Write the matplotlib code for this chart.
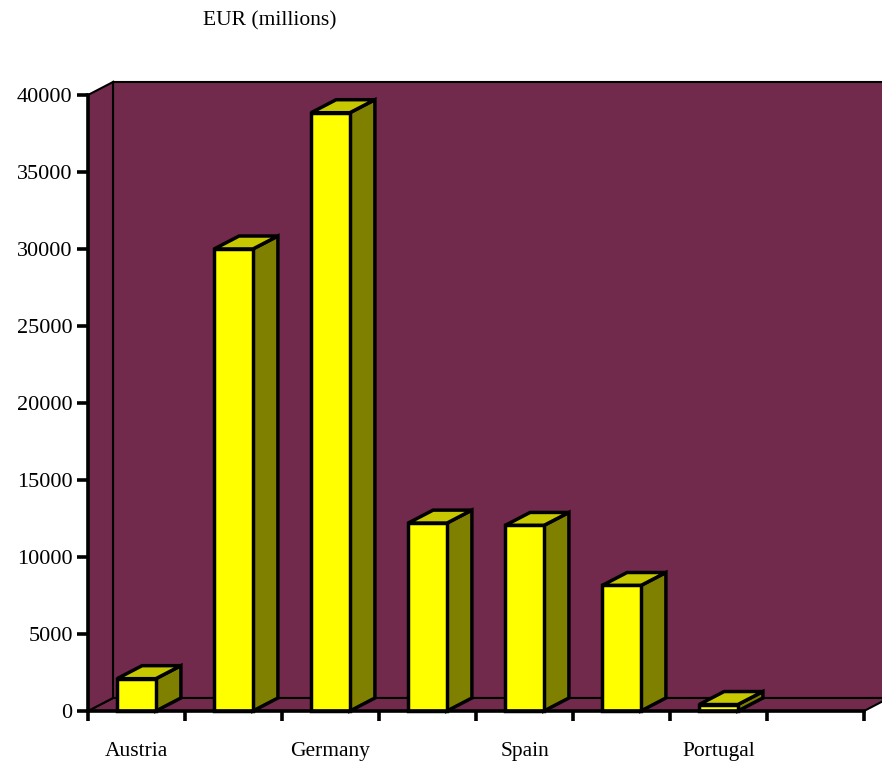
import matplotlib.pyplot as plt
from matplotlib.patches import Polygon

# data
countries = ["Austria", "", "Germany", "", "Spain", "", "Portugal", ""]
values = [2100, 30000, 38850, 12200, 12050, 8150, 420]

wall = "#722a4c"
front = "#ffff00"
side = "#808000"
top = "#c8c800"

plt.rcParams['font.family'] = ['Liberation Serif', 'DejaVu Serif']

fig = plt.figure(figsize=(8.82, 7.65), dpi=100)
ax = fig.add_axes([88/882, 54/765, 776/882, 616/765])
ax.set_xlim(0, len(countries))
ax.set_ylim(0, 40000)
ax.patch.set_visible(False)

# depth of the 3d box in pixels -> data units
px_x = 776 / len(countries)
px_y = 616 / 40000
dx = 25 / px_x
dy = 13 / px_y
n = len(countries)

def poly(pts, fc, lw=2.2, z=1):
    p = Polygon(pts, closed=True, facecolor=fc, edgecolor="black",
                linewidth=lw, clip_on=False, zorder=z, joinstyle="miter")
    ax.add_patch(p)

# back wall, floor, left wall
poly([(dx, dy), (n + dx, dy), (n + dx, 40000 + dy), (dx, 40000 + dy)], wall, 1.5, 0)
poly([(0, 0), (n, 0), (n + dx, dy), (dx, dy)], wall, 1.5, 0)
poly([(0, 0), (dx, dy), (dx, 40000 + dy), (0, 40000)], wall, 1.5, 0)

w = 0.4
for i, v in enumerate(values):
    x0 = i + 0.5 - w / 2
    x1 = x0 + w
    poly([(x1, 0), (x1 + dx, dy), (x1 + dx, v + dy), (x1, v)], side, 2.5, 2)
    poly([(x0, v), (x1, v), (x1 + dx, v + dy), (x0 + dx, v + dy)], top, 2.5, 2)

ax.bar([i + 0.5 for i in range(len(values))], values, width=w, color=front,
       edgecolor="black", linewidth=2.5, zorder=3, clip_on=False)

for s in ["top", "right"]:
    ax.spines[s].set_visible(False)
for s in ["left", "bottom"]:
    ax.spines[s].set_linewidth(2.6)
    ax.spines[s].set_zorder(4)

ax.set_yticks(range(0, 40001, 5000))
ax.tick_params(axis="y", direction="out", length=8, width=2.6, pad=3, labelsize=16)
ax.set_xticks(range(n + 1))
ax.set_xticklabels([])
ax.tick_params(axis="x", which="major", direction="out", length=7, width=2.6)
ax.set_xticks([i + 0.5 for i in range(n)], minor=True)
ax.set_xticklabels(countries, minor=True)
ax.tick_params(axis="x", which="minor", length=0, pad=22, labelsize=15.5)

fig.text(203/882, 1 - 21/765, "EUR (millions)", fontsize=15.5, va="center", ha="left")

fig.savefig("out.png", dpi=100)
